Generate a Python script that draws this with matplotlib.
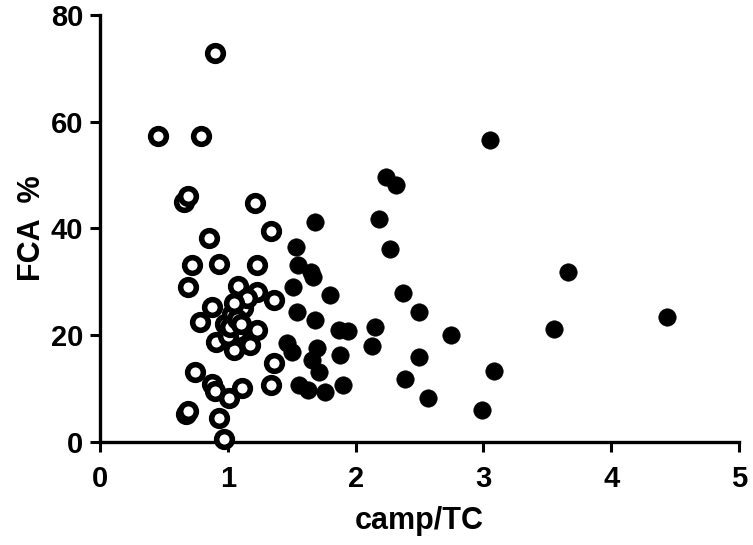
import matplotlib
matplotlib.use("Agg")
import matplotlib.pyplot as plt

plt.rcParams['font.family'] = ['Liberation Sans', 'DejaVu Sans']
plt.rcParams['font.weight'] = 'bold'

open_x = [0.90, 0.45, 0.79, 0.66, 0.69, 1.21, 1.34, 0.85, 0.72, 0.93, 1.23,
          0.69, 1.08, 1.23, 1.36, 0.88, 0.78, 1.23, 0.91, 1.17, 1.05,
          0.98, 1.03, 1.12, 1.08, 1.00, 1.15, 1.05, 1.02, 1.07, 1.10,
          1.36, 1.34, 0.74, 0.88, 0.90, 1.11, 1.01, 0.67, 0.69, 0.93, 0.97]
open_y = [72.9, 57.3, 57.3, 45.0, 46.0, 44.7, 39.5, 38.2, 33.1, 33.4, 33.2,
          29.0, 29.2, 28.0, 26.6, 25.2, 22.4, 20.9, 18.7, 18.2, 17.2,
          22.0, 24.0, 25.0, 20.5, 19.8, 27.0, 26.0, 21.5, 23.0, 22.0,
          14.7, 10.6, 13.1, 10.8, 9.5, 10.0, 8.2, 5.2, 5.8, 4.4, 0.5]

filled_x = [3.05, 2.24, 2.32, 2.18, 1.68, 2.27, 1.53, 1.55, 1.65, 1.67,
            3.66, 1.51, 1.80, 2.37, 1.54, 2.50, 4.44, 1.68, 2.15, 3.55,
            1.87, 1.94, 2.75, 1.46, 1.50, 1.70, 2.13, 1.88, 2.50, 1.66,
            1.71, 3.08, 2.39, 1.56, 1.63, 1.76, 1.90, 2.57, 2.99]
filled_y = [56.5, 49.7, 48.1, 41.7, 41.2, 36.1, 36.5, 33.2, 31.8, 30.8,
            31.8, 29.0, 27.5, 27.8, 24.3, 24.3, 23.4, 22.8, 21.5, 21.1,
            21.0, 20.8, 20.0, 18.5, 16.8, 17.6, 17.9, 16.3, 15.9, 15.3,
            13.1, 13.3, 11.8, 10.6, 9.7, 9.3, 10.6, 8.2, 5.9]

xticks = [0, 1, 2, 3, 4, 5]
yticks = [0, 20, 40, 60, 80]

fig = plt.figure(figsize=(7.53, 5.45), dpi=100)
ax = fig.add_axes([0.1328, 0.1895, 0.8486, 0.783])

ax.plot(filled_x, filled_y, linestyle='none', marker='o', markersize=12.5,
        markerfacecolor='black', markeredgecolor='black', markeredgewidth=0.5,
        clip_on=False, zorder=3)
ax.plot(open_x, open_y, linestyle='none', marker='o', markersize=11.3,
        markerfacecolor='white', markeredgecolor='black', markeredgewidth=4.0,
        clip_on=False, zorder=4)

ax.set_xlim(0, 5)
ax.set_ylim(0, 80)
ax.set_xticks(xticks)
ax.set_yticks(yticks)
ax.set_xticklabels([str(t) for t in xticks], fontsize=21, fontweight='bold')
ax.set_yticklabels([str(t) for t in yticks], fontsize=21, fontweight='bold')

for s in ['top', 'right']:
    ax.spines[s].set_visible(False)
for s in ['left', 'bottom']:
    ax.spines[s].set_linewidth(2.4)
ax.tick_params(axis='both', direction='out', length=7, width=2.2)
ax.tick_params(axis='x', pad=10)
ax.tick_params(axis='y', pad=5)

ax.set_xlabel('camp/TC', fontsize=22, fontweight='bold', labelpad=9)
ax.set_ylabel('FCA  %', fontsize=22, fontweight='bold', labelpad=3)

fig.savefig('out.png', dpi=100)
